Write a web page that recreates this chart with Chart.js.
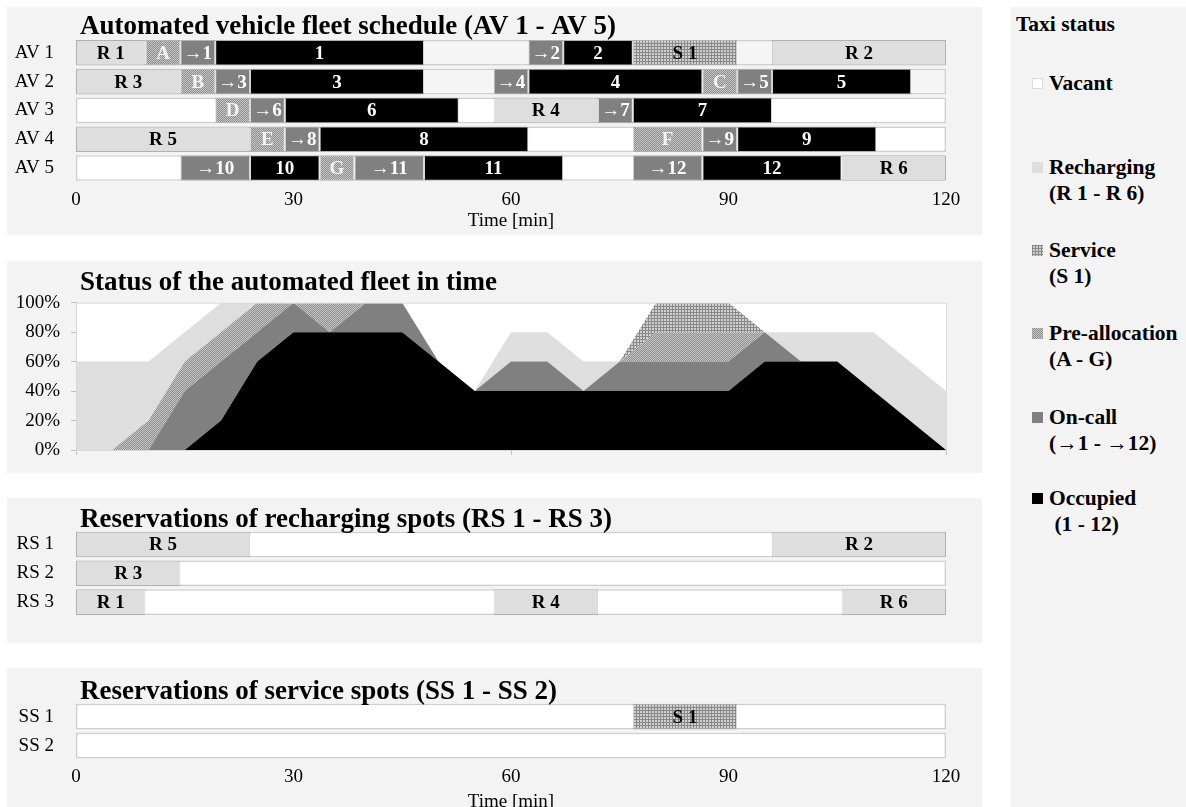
<!DOCTYPE html>
<html>
<head>
<meta charset="utf-8">
<script src="https://cdn.jsdelivr.net/npm/chart.js@4.4.0/dist/chart.umd.min.js"></script>
<style>
    html, body { margin: 0; padding: 0; background: #fff; overflow: hidden; }
    body { width: 1186px; height: 807px; position: relative; font-family: 'Liberation Serif', 'Times New Roman', serif; }
    .panel { position: absolute; background: #f3f3f3; }
    canvas.plot { position: absolute; left: 0; }
    .ltitle { position: absolute; left: 1016px; font-weight: bold; font-size: 21.5px; line-height: 26px; }
    .litem { position: absolute; left: 1049px; font-weight: bold; font-size: 21.5px; line-height: 26px; white-space: pre; }
    .sw { position: absolute; left: 1032px; width: 11px; height: 11px; box-sizing: border-box; }
</style>
</head>
<body>
<div class="panel" style="left:7px; top:7px; width:975px; height:228px;"></div>
<div class="panel" style="left:7px; top:261px; width:975px; height:212px;"></div>
<div class="panel" style="left:7px; top:498px; width:975px; height:145px;"></div>
<div class="panel" style="left:7px; top:668px; width:975px; height:139px;"></div>
<div class="panel" style="left:1011px; top:7px; width:175px; height:800px;"></div>

<canvas class="plot" id="fleet" width="1000" height="232" style="top:7px"></canvas>
<canvas class="plot" id="status" width="1000" height="212" style="top:261px"></canvas>
<canvas class="plot" id="recharge" width="1000" height="145" style="top:498px"></canvas>
<canvas class="plot" id="service" width="1000" height="152" style="top:668px"></canvas>

<div id="legend"></div>

<script>
/**
 * Fleet schedule figure: gantt rows + stacked status area
 * Segments are [status, start min, end min, label]
 */

const TIME_TICKS = [0, 30, 60, 90, 120];

const avRows = ['AV 1', 'AV 2', 'AV 3', 'AV 4', 'AV 5'];
const av1 = [['R', 0, 9.6, 'R 1'], ['P', 9.6, 14.4, 'A'], ['C', 14.4, 19.2, '→1'], ['O', 19.2, 48, '1'],
             ['C', 62.4, 67.2, '→2'], ['O', 67.2, 76.8, '2'], ['S', 76.8, 91.2, 'S 1'], ['R', 96, 120, 'R 2']];
const av2 = [['R', 0, 14.4, 'R 3'], ['P', 14.4, 19.2, 'B'], ['C', 19.2, 24, '→3'], ['O', 24, 48, '3'],
             ['C', 57.6, 62.4, '→4'], ['O', 62.4, 86.4, '4'], ['P', 86.4, 91.2, 'C'], ['C', 91.2, 96, '→5'],
             ['O', 96, 115.2, '5']];
const av3 = [['P', 19.2, 24, 'D'], ['C', 24, 28.8, '→6'], ['O', 28.8, 52.8, '6'], ['R', 57.6, 72, 'R 4'],
             ['C', 72, 76.8, '→7'], ['O', 76.8, 96, '7']];
const av4 = [['R', 0, 24, 'R 5'], ['P', 24, 28.8, 'E'], ['C', 28.8, 33.6, '→8'], ['O', 33.6, 62.4, '8'],
             ['P', 76.8, 86.4, 'F'], ['C', 86.4, 91.2, '→9'], ['O', 91.2, 110.4, '9']];
const av5 = [['C', 14.4, 24, '→10'], ['O', 24, 33.6, '10'], ['P', 33.6, 38.4, 'G'], ['C', 38.4, 48, '→11'],
             ['O', 48, 67.2, '11'], ['C', 76.8, 86.4, '→12'], ['O', 86.4, 105.6, '12'], ['R', 105.6, 120, 'R 6']];

const rsRows = ['RS 1', 'RS 2', 'RS 3'];
const rs1 = [['R', 0, 24, 'R 5'], ['R', 96, 120, 'R 2']];
const rs2 = [['R', 0, 14.4, 'R 3']];
const rs3 = [['R', 0, 9.6, 'R 1'], ['R', 57.6, 72, 'R 4'], ['R', 105.6, 120, 'R 6']];

const ssRows = ['SS 1', 'SS 2'];
const ss1 = [['S', 76.8, 91.2, 'S 1']];
const ss2 = [];

// status of the fleet, share of vehicles per 4.8 min slot
const slotTimes = ['0', '4.8', '9.6', '14.4', '19.2', '24', '28.8', '33.6', '38.4', '43.2', '48', '52.8', '57.6',
                   '62.4', '67.2', '72', '76.8', '81.6', '86.4', '91.2', '96', '100.8', '105.6', '110.4', '115.2'];
const occupiedPct   = [0, 0, 0, 0, 20, 60, 80, 80, 80, 80, 60, 40, 40, 40, 40, 40, 40, 40, 40, 60, 60, 60, 40, 20, 0];
const onCallPct     = [0, 0, 0, 40, 40, 20, 20, 0, 20, 20, 0, 0, 20, 20, 0, 20, 20, 20, 20, 20, 0, 0, 0, 0, 0];
const preAllocPct   = [0, 0, 20, 20, 20, 20, 0, 20, 0, 0, 0, 0, 0, 0, 0, 0, 20, 20, 20, 0, 0, 0, 0, 0, 0];
const servicePct    = [0, 0, 0, 0, 0, 0, 0, 0, 0, 0, 0, 0, 0, 0, 0, 0, 20, 20, 20, 0, 0, 0, 0, 0, 0];
const rechargingPct = [60, 60, 40, 20, 20, 0, 0, 0, 0, 0, 0, 0, 20, 20, 20, 0, 0, 0, 0, 0, 20, 20, 40, 40, 40];
const vacantPct     = [40, 40, 40, 20, 0, 0, 0, 0, 0, 0, 40, 60, 20, 20, 40, 40, 0, 0, 0, 20, 20, 20, 20, 40, 60];

const legendNames  = ['Vacant', 'Recharging', 'Service', 'Pre-allocation', 'On-call', 'Occupied'];
const legendRanges = ['', '(R 1 - R 6)', '(S 1)', '(A - G)', '(→1 - →12)', ' (1 - 12)'];
const legendKeys   = ['V', 'R', 'S', 'P', 'C', 'O'];

const FONT = "'Liberation Serif', 'Times New Roman', serif";
Chart.defaults.font.family = FONT;
Chart.defaults.color = '#000';

// small fill patterns (stipple / cross-hatch)
function makePatternCanvas(kind) {
    const c = document.createElement('canvas');
    const g = c.getContext('2d');
    if (kind === 'dots') {
        c.width = 2; c.height = 2;
        g.fillStyle = '#c6c6c6'; g.fillRect(0, 0, 2, 2);
        g.fillStyle = '#8e8e8e'; g.fillRect(0, 0, 1, 1); g.fillRect(1, 1, 1, 1);
    } else {
        c.width = 3; c.height = 3;
        g.fillStyle = '#d0d0d0'; g.fillRect(0, 0, 3, 3);
        g.fillStyle = '#888888'; g.fillRect(0, 0, 3, 1); g.fillRect(0, 0, 1, 3);
    }
    return c;
}
const dotCanvas = makePatternCanvas('dots');
const gridCanvas = makePatternCanvas('grid');
const patCtx = document.createElement('canvas').getContext('2d');

const FILL = {
    V: '#ffffff',
    R: '#dedede',
    S: patCtx.createPattern(gridCanvas, 'repeat'),
    P: patCtx.createPattern(dotCanvas, 'repeat'),
    C: '#808080',
    O: '#000000'
};
const TEXT_COLOR = { R: '#000', S: '#000', P: '#f4f4f4', C: '#fff', O: '#fff' };
const STATUS_ORDER = ['R', 'S', 'P', 'C', 'O'];

// labels inside the gantt bars
const barText = {
    id: 'barText',
    afterDatasetsDraw(chart) {
        const ctx = chart.ctx;
        ctx.save();
        ctx.font = `bold 19px ${FONT}`;
        ctx.textAlign = 'center';
        ctx.textBaseline = 'middle';
        chart.data.datasets.forEach((ds, i) => {
            if (!ds.status || ds.status === 'V') return;
            const meta = chart.getDatasetMeta(i);
            meta.data.forEach((el, j) => {
                const t = ds.data[j].text;
                if (!t) return;
                ctx.fillStyle = TEXT_COLOR[ds.status];
                ctx.fillText(t, (el.x + el.base) / 2, el.y + 1);
            });
        });
        ctx.restore();
    }
};

// bold panel title, left aligned on the plot area
const panelTitle = {
    id: 'panelTitle',
    defaults: { text: '', y: 0 },
    afterDraw(chart, args, opts) {
        if (!opts.text) return;
        const ctx = chart.ctx;
        ctx.save();
        ctx.font = `bold 27px ${FONT}`;
        ctx.fillStyle = '#000';
        ctx.textBaseline = 'middle';
        ctx.fillText(opts.text, chart.chartArea.left + 4, opts.y);
        ctx.restore();
    }
};

// white plot area with a thin frame (area chart)
const plotFrame = {
    id: 'plotFrame',
    defaults: { on: false },
    beforeDraw(chart, args, opts) {
        if (!opts.on) return;
        const { left, top, width, height } = chart.chartArea;
        chart.ctx.save();
        chart.ctx.fillStyle = '#fff';
        chart.ctx.fillRect(left, top, width, height);
        chart.ctx.restore();
    },
    afterDatasetsDraw(chart, args, opts) {
        if (!opts.on) return;
        const { left, top, width, height } = chart.chartArea;
        chart.ctx.save();
        chart.ctx.strokeStyle = '#d9d9d9';
        chart.ctx.lineWidth = 1;
        chart.ctx.strokeRect(left + 0.5, top + 0.5, width, height);
        chart.ctx.restore();
    }
};

function ganttDatasets(rows, schedules, rowFill) {
    const sets = STATUS_ORDER.map(k => ({
        label: k,
        status: k,
        data: [],
        backgroundColor: FILL[k],
        borderColor: 'rgba(0,0,0,0.14)',
        borderWidth: 1,
        borderSkipped: false,
        barPercentage: 0.89,
        categoryPercentage: 1,
        order: 1
    }));
    schedules.forEach((segs, i) => {
        segs.forEach(([k, s, e, txt]) => {
            sets[STATUS_ORDER.indexOf(k)].data.push({ x: [s, e], y: rows[i], text: txt });
        });
    });
    // vacant background for each row
    sets.push({
        label: 'V',
        status: 'V',
        data: rows.map(r => ({ x: [TIME_TICKS[0], TIME_TICKS[TIME_TICKS.length - 1]], y: r })),
        backgroundColor: rows.map((r, i) => (rowFill ? rowFill[i] : FILL.V)),
        borderColor: '#cfcfcf',
        borderWidth: 1.5,
        borderSkipped: false,
        barPercentage: 0.89,
        categoryPercentage: 1,
        order: 2
    });
    return sets;
}

function renderGantt(id, rows, schedules, cfg) {
    const ctx = document.getElementById(id).getContext('2d');
    return new Chart(ctx, {
        type: 'bar',
        data: { labels: rows, datasets: ganttDatasets(rows, schedules, cfg.rowFill) },
        plugins: [barText, panelTitle],
        options: {
            responsive: false,
            animation: false,
            indexAxis: 'y',
            layout: { padding: { left: 0, right: 54, top: cfg.padTop, bottom: cfg.padBottom } },
            datasets: { bar: { grouped: false } },
            plugins: {
                legend: { display: false },
                tooltip: { enabled: false },
                panelTitle: { text: cfg.title, y: cfg.titleY }
            },
            scales: {
                x: {
                    type: 'linear',
                    display: cfg.showX,
                    min: TIME_TICKS[0],
                    max: TIME_TICKS[TIME_TICKS.length - 1],
                    grid: { display: false, drawTicks: false },
                    border: { display: false },
                    afterBuildTicks: s => { s.ticks = TIME_TICKS.map(v => ({ value: v })); },
                    ticks: { color: '#000', font: { size: 19 }, padding: cfg.tickPad, maxRotation: 0 },
                    title: { display: true, text: 'Time [min]', color: '#000', font: { size: 19 } },
                    afterFit: s => { s.height = cfg.xHeight; }
                },
                y: {
                    type: 'category',
                    grid: { display: false },
                    border: { display: false },
                    ticks: { color: '#000', font: { size: 19 }, padding: 14 },
                    afterFit: s => { s.width = 76; }
                }
            }
        }
    });
}

renderGantt('fleet', avRows, [av1, av2, av3, av4, av5], {
    title: 'Automated vehicle fleet schedule (AV 1 - AV 5)', titleY: 20,
    padTop: 31.4, padBottom: 2.6, xHeight: 54, tickPad: 6, showX: true,
    rowFill: ['#f5f5f5', '#f5f5f5', '#ffffff', '#ffffff', '#ffffff']
});
renderGantt('recharge', rsRows, [rs1, rs2, rs3], {
    title: 'Reservations of recharging spots (RS 1 - RS 3)', titleY: 22,
    padTop: 32.1, padBottom: 26.5, xHeight: 0, tickPad: 6, showX: false
});
renderGantt('service', ssRows, [ss1, ss2], {
    title: 'Reservations of service spots (SS 1 - SS 2)', titleY: 24,
    padTop: 34.2, padBottom: 2.9, xHeight: 56.9, tickPad: 5, showX: true
});

// stacked status area
function areaSet(label, data, key) {
    return {
        label: label,
        data: data,
        backgroundColor: FILL[key],
        borderWidth: 0,
        pointRadius: 0,
        tension: 0,
        fill: label === 'Occupied' ? 'origin' : '-1'
    };
}

new Chart(document.getElementById('status').getContext('2d'), {
    type: 'line',
    data: {
        labels: slotTimes,
        datasets: [
            areaSet('Occupied', occupiedPct, 'O'),
            areaSet('On-call', onCallPct, 'C'),
            areaSet('Pre-allocation', preAllocPct, 'P'),
            areaSet('Service', servicePct, 'S'),
            areaSet('Recharging', rechargingPct, 'R'),
            areaSet('Vacant', vacantPct, 'V')
        ]
    },
    plugins: [plotFrame, panelTitle],
    options: {
        responsive: false,
        animation: false,
        layout: { padding: { left: 0, right: 54, top: 41.7, bottom: 15 } },
        plugins: {
            legend: { display: false },
            tooltip: { enabled: false },
            plotFrame: { on: true },
            panelTitle: { text: 'Status of the automated fleet in time', y: 22 }
        },
        scales: {
            x: {
                type: 'category',
                offset: false,
                grid: {
                    drawOnChartArea: false,
                    drawTicks: true,
                    tickLength: 5,
                    tickColor: c => (c.index % 12 === 0 ? '#bfbfbf' : 'rgba(0,0,0,0)')
                },
                border: { color: '#bfbfbf' },
                ticks: { display: false, autoSkip: false },
                afterFit: s => { s.height = 8; }
            },
            y: {
                stacked: true,
                min: 0,
                max: 100,
                grid: { drawOnChartArea: false, tickLength: 5, color: '#bfbfbf' },
                border: { color: '#bfbfbf' },
                ticks: {
                    stepSize: 20,
                    color: '#000',
                    padding: 11,
                    font: { size: 19 },
                    callback: v => v + '%'
                },
                afterFit: s => { s.width = 76; }
            }
        }
    }
});

// legend panel
const legendTops = [83, 167, 250, 333, 417, 498];
const legend = document.getElementById('legend');
const lt = document.createElement('div');
lt.className = 'ltitle';
lt.style.top = (24 - 13) + 'px';
lt.textContent = 'Taxi status';
legend.appendChild(lt);
legendNames.forEach((name, i) => {
    const y = legendTops[i];
    const sw = document.createElement('div');
    sw.className = 'sw';
    sw.style.top = (y - 5.5) + 'px';
    const k = legendKeys[i];
    if (k === 'S') sw.style.backgroundImage = `url(${gridCanvas.toDataURL()})`;
    else if (k === 'P') sw.style.backgroundImage = `url(${dotCanvas.toDataURL()})`;
    else sw.style.background = FILL[k];
    if (k === 'V') sw.style.border = '1px solid #dcdcdc';
    legend.appendChild(sw);
    const tx = document.createElement('div');
    tx.className = 'litem';
    tx.style.top = (y - 13) + 'px';
    tx.textContent = legendRanges[i] ? name + '\n' + legendRanges[i] : name;
    legend.appendChild(tx);
});
</script>
</body>
</html>
